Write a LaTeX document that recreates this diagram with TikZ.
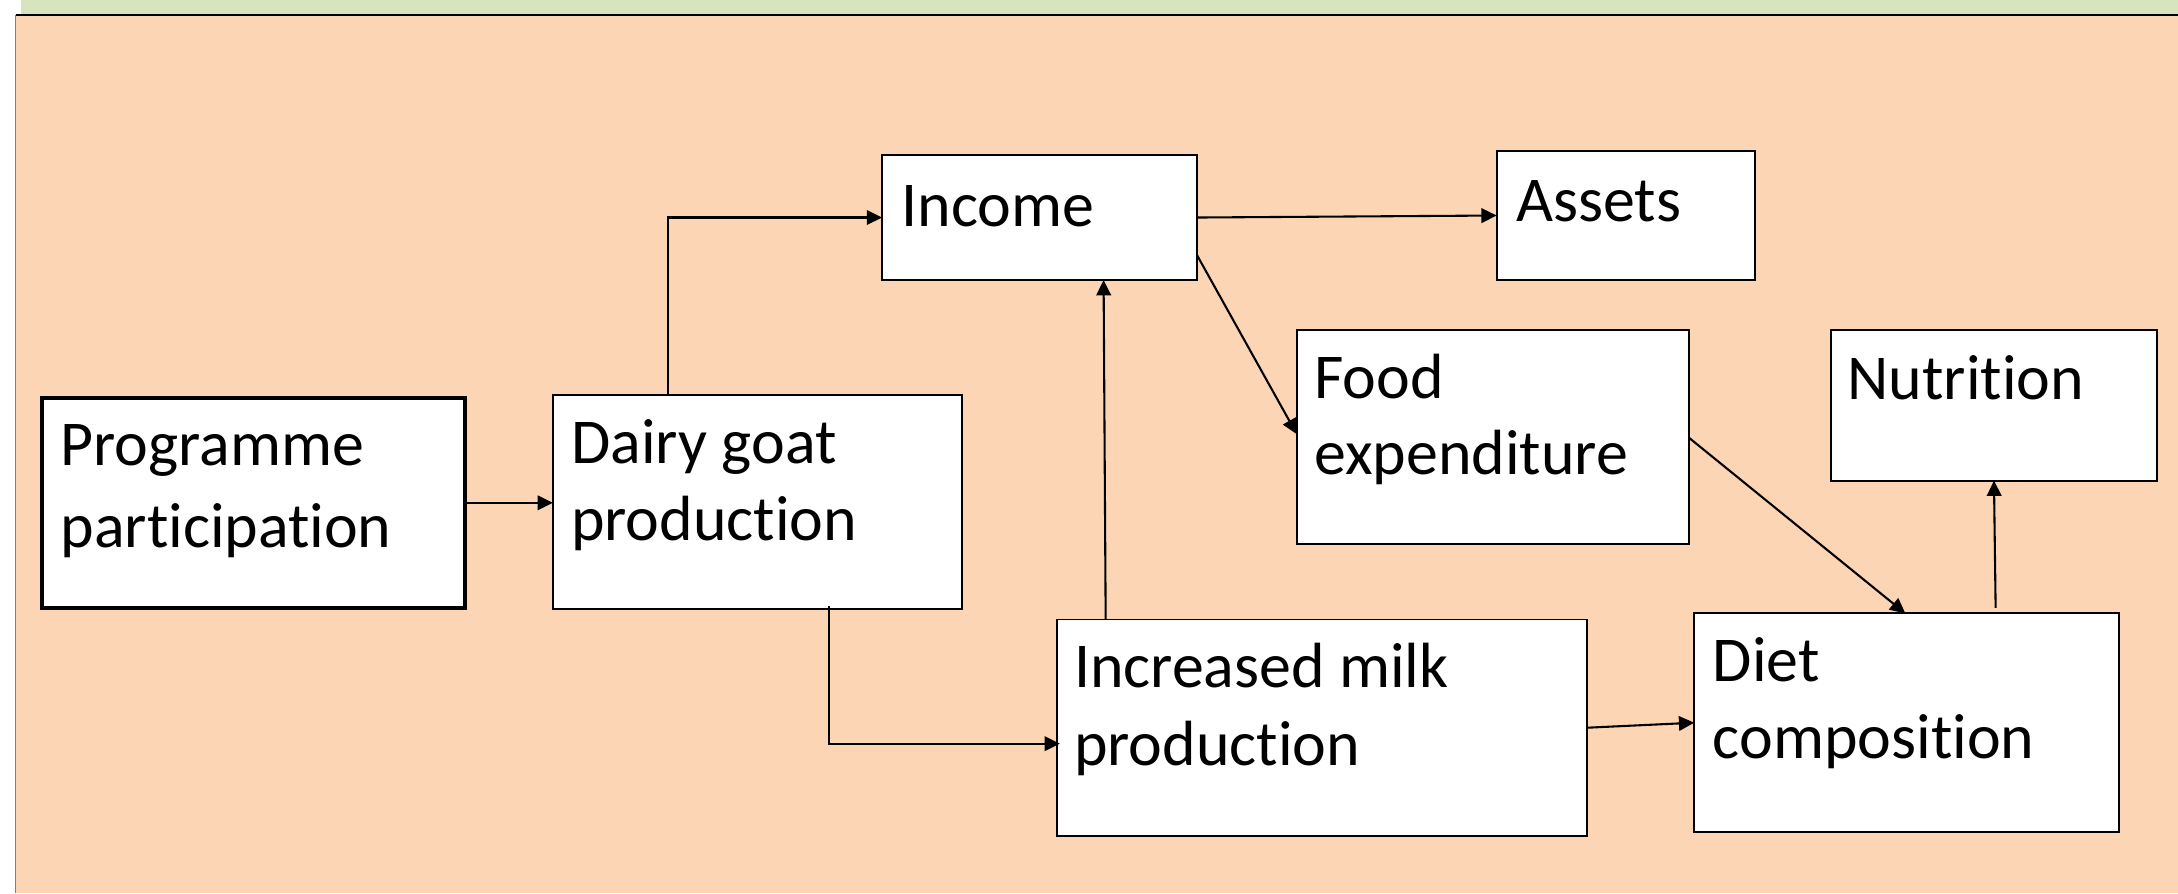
\documentclass[tikz,border=0pt]{standalone}
\usepackage{fontspec}
\setmainfont{Carlito}[Ligatures={NoCommon,NoRequired,NoContextual}]
\usetikzlibrary{arrows.meta,calc}
\definecolor{bgorange}{RGB}{252,213,181}
\definecolor{bggreen}{RGB}{215,228,189}
\newcommand\tisep{t\kern0pt i}
\begin{document}
\begin{tikzpicture}[x=1pt,y=-1pt,
  box/.style={draw=black,fill=white,line width=1.4pt,inner sep=0pt,outer sep=0pt,anchor=north west},
  lbl/.style={anchor=base west,inner sep=0pt,font=\fontsize{46}{55}\selectfont},
  arr/.style={line width=1.5pt,-{Triangle[length=11pt,width=10.5pt]}}]
\useasboundingbox (0,0) rectangle (1568,643);
\fill[white] (0,0) rectangle (1568,643);
\fill[bggreen] (15,0) rectangle (1568,11);
\fill[bgorange] (11.2,10.8) rectangle (1568,643);
\draw[gray,line width=1pt] (11.2,10.8) -- (11.2,643);
\draw[black,line width=1.4pt] (11.2,10.8) -- (1568,10.8);
% boxes
\node[box,line width=3pt,minimum width=304pt,minimum height=151pt] (prog) at (30.5,286.5) {};
\node[box,minimum width=294.5pt,minimum height=154pt] (dairy) at (398,284.4) {};
\node[box,minimum width=226.7pt,minimum height=90pt] (income) at (635,111.6) {};
\node[box,minimum width=186pt,minimum height=92.3pt] (assets) at (1077.5,109) {};
\node[box,minimum width=282.4pt,minimum height=154.1pt] (food) at (933.6,237.6) {};
\node[box,minimum width=235pt,minimum height=108.4pt] (nutr) at (1318,237.6) {};
\node[box,minimum width=381.5pt,minimum height=155.8pt] (milk) at (761,446) {};
\node[box,minimum width=305.6pt,minimum height=157.4pt] (diet) at (1219.7,441.6) {};
% texts
\node[lbl] (tprog1) at (43.4,335) {Programme};
\node[lbl] (tprog2) at (43.4,394) {par\tisep cipa\tisep on};
\node[lbl] (tdairy1) at (411,334) {Dairy goat};
\node[lbl] (tdairy2) at (411,389) {produc\tisep on};
\node[lbl] (tinc) at (649,162.7) {Income};
\node[lbl] (tass) at (1091.5,159.4) {Assets};
\node[lbl] (tfood1) at (946,286.8) {Food};
\node[lbl] (tfood2) at (946,341.5) {expenditure};
\node[lbl] (tnut) at (1330,287.5) {Nutri\tisep on};
\node[lbl] (tmilk1) at (773,495.3) {Increased milk};
\node[lbl] (tmilk2) at (773,550.8) {produc\tisep on};
\node[lbl] (tdiet1) at (1233,490.8) {Diet};
\node[lbl] (tdiet2) at (1233,546.1) {composi\tisep on};
% connectors
\coordinate (b1) at ($(dairy.north west)+(83,0)$);
\coordinate (c1) at ($(dairy.south west)+(199,-2)$);
\coordinate (c2) at ($(milk.west)+(2,11.5)$);
\draw[arr] (prog.east) -- (prog.east -| dairy.west);
\draw[arr] (b1) |- (income.west);
\draw[arr] (c1) |- (c2);
\draw[arr] ($(milk.north west)+(35,0)$) -- ($(income.south west)+(159.5,0)$);
\draw[arr] (income.east) -- (assets.west);
\draw[arr] ($(income.north east)+(0,72)$) -- ($(food.north west)+(0,75)$);
\draw[arr] ($(food.north east)+(0,77.6)$) -- ($(diet.north west)+(152,0)$);
\draw[arr] ($(diet.north west)+(217,-4)$) -- ($(nutr.south west)+(117.5,0)$);
\draw[arr] (milk.east) -- (diet.west);
\end{tikzpicture}
\end{document}
